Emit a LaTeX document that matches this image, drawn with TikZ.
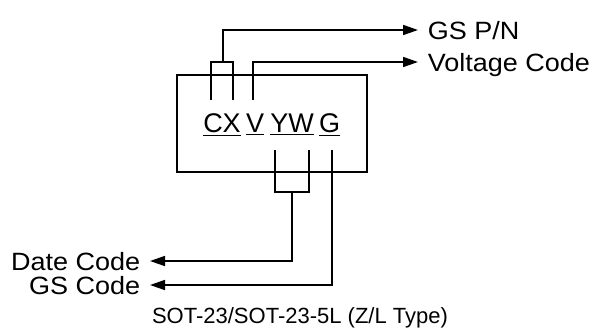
\documentclass[tikz,border=0pt]{standalone}
\usepackage{fontspec}
\setmainfont{Liberation Sans}
\newfontfamily\widefont{Liberation Sans}[FakeStretch=1.08]
\usetikzlibrary{arrows.meta}

\begin{document}
\begin{tikzpicture}[x=0.5pt,y=-0.5pt,line width=0.8pt,
	arr/.style={-{Triangle[length=7.5pt,width=5pt]}},
	marktext/.style={font=\fontsize{13.5}{16}\selectfont,inner sep=0pt,anchor=base},
	lbl/.style={font=\widefont\fontsize{12.5}{15}\selectfont,inner xsep=4.5pt,inner ysep=0pt,text depth=0pt}]
	\useasboundingbox (0,0) rectangle (598,334);
	\node[draw,minimum width=95pt,minimum height=48.5pt,inner sep=0pt] at (272,123.5) (box) {};
	\node[marktext] at (222,132) (cx) {\underline{CX}};
	\node[marktext] at (255,132) (v) {\underline{V}};
	\node[marktext] at (292,132) (yw) {\underline{YW}};
	\node[marktext] at (329.5,132) (g) {\underline{G}};
	\node[lbl,anchor=west] at (418,30) (pn) {GS P/N};
	\node[lbl,anchor=west] at (418,62) (vcode) {Voltage Code};
	\node[lbl,anchor=east] at (150,261) (date) {Date Code};
	\node[lbl,anchor=east] at (150,285) (gscode) {GS Code};
	\node[font=\fontsize{11}{13}\selectfont] at (300,318) (caption) {SOT-23/SOT-23-5L (Z/L Type)};
	% leads above the marking
	\coordinate (cxa) at (211,100);
	\coordinate (cxb) at (233,100);
	\coordinate (cxtop) at (223,62);
	\coordinate (vtop) at (253,100);
	\draw (cxa) |- (cxb |- cxtop) -- (cxb);
	\draw[arr] (cxtop) |- (pn.west);
	\draw[arr] (vtop) |- (vcode.west);
	% leads below the marking
	\coordinate (ywa) at (275,150);
	\coordinate (ywb) at (309,150);
	\coordinate (ywbot) at (292,192);
	\coordinate (gbot) at (332,150);
	\draw (ywa) |- (ywb |- ywbot) -- (ywb);
	\draw[arr] (ywbot) |- (date.east);
	\draw[arr] (gbot) |- (gscode.east);
\end{tikzpicture}
\end{document}
